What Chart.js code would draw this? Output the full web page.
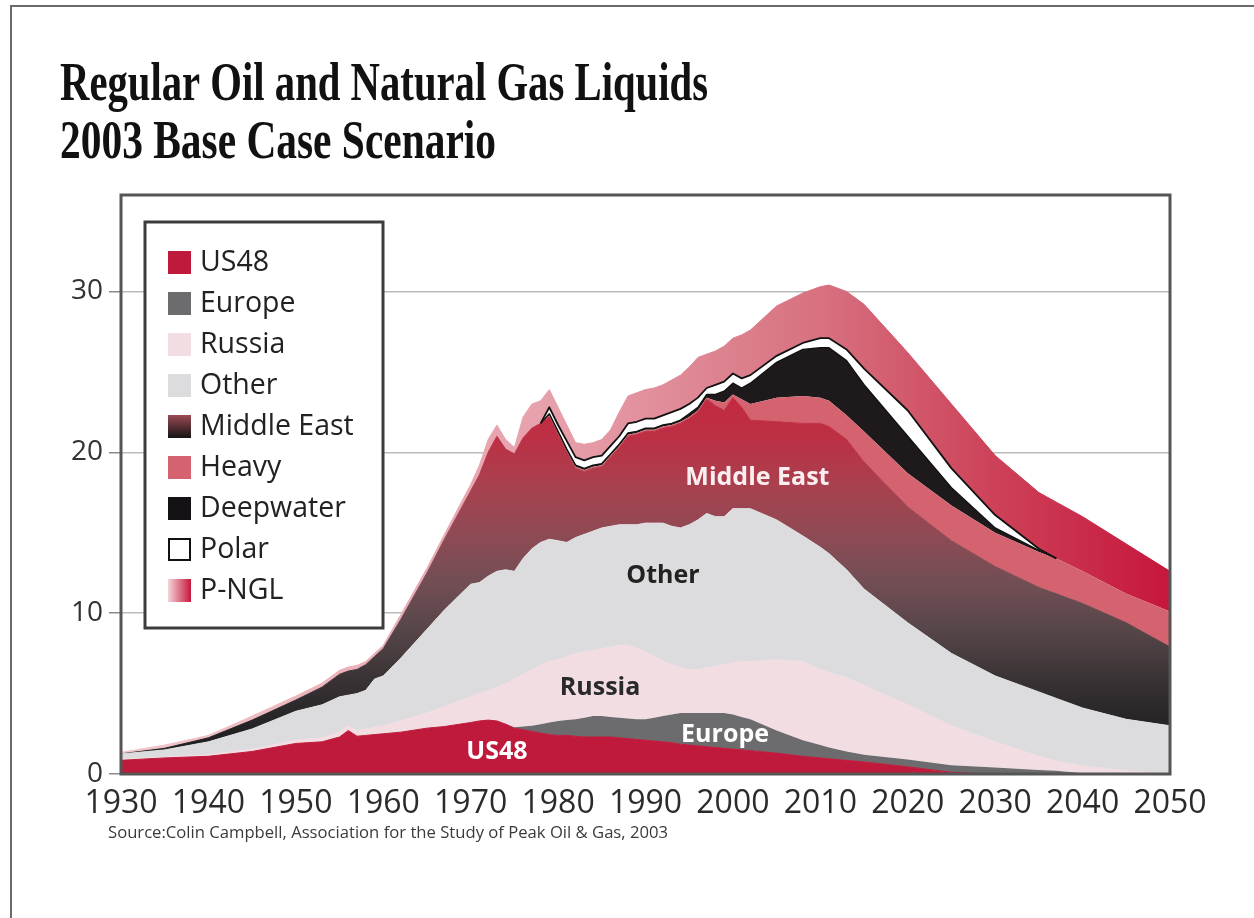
<!DOCTYPE html>
<html>
<head>
<meta charset="utf-8">
<script src="https://cdn.jsdelivr.net/npm/chart.js@4.4.1/dist/chart.umd.min.js"></script>
<style>
  html, body { margin: 0; padding: 0; background: #fff; }
  #wrap { width: 1254px; height: 918px; }
</style>
</head>
<body>
<div id="wrap"><canvas id="oilChart" width="1254" height="918"></canvas></div>
<script>
// Regular oil & NGL production by region (Gb/year), stacked bottom to top
const years = [1930, 1935, 1940, 1945, 1950, 1953, 1955, 1956, 1957, 1958, 1959, 1960, 1962, 1965, 1967,
    1970, 1971, 1972, 1973, 1974, 1975, 1976, 1977, 1978, 1979, 1980, 1981, 1982, 1983, 1984, 1985, 1986,
    1987, 1988, 1989, 1990, 1991, 1992, 1993, 1994, 1995, 1996, 1997, 1998, 1999, 2000, 2001, 2002,
    2005, 2008, 2010, 2011, 2013, 2015, 2020, 2025, 2030, 2035, 2037, 2040, 2045, 2050];

const us48 = [0.85, 1.0, 1.1, 1.4, 1.9, 2.0, 2.3, 2.7, 2.35, 2.4, 2.45, 2.5, 2.6, 2.85, 2.95,
    3.2, 3.3, 3.35, 3.3, 3.1, 2.85, 2.75, 2.65, 2.55, 2.45, 2.4, 2.4, 2.35, 2.3, 2.3, 2.3, 2.3,
    2.25, 2.2, 2.15, 2.1, 2.05, 2.0, 1.95, 1.85, 1.8, 1.75, 1.7, 1.65, 1.6, 1.55, 1.5, 1.45,
    1.3, 1.1, 1.0, 0.95, 0.85, 0.75, 0.45, 0.1, 0, 0, 0, 0, 0, 0];

const europe = [0, 0, 0, 0, 0, 0, 0, 0, 0, 0, 0, 0, 0, 0, 0,
    0, 0, 0, 0, 0, 0.05, 0.2, 0.35, 0.55, 0.75, 0.9, 0.95, 1.05, 1.2, 1.3, 1.3, 1.25,
    1.25, 1.25, 1.25, 1.3, 1.45, 1.6, 1.75, 1.95, 2.0, 2.05, 2.1, 2.15, 2.2, 2.15, 2.05, 1.95,
    1.4, 1.0, 0.8, 0.7, 0.55, 0.45, 0.45, 0.45, 0.4, 0.25, 0.2, 0.05, 0, 0];

const russia = [0.05, 0.05, 0.1, 0.15, 0.2, 0.25, 0.3, 0.3, 0.35, 0.4, 0.45, 0.5, 0.7, 0.95, 1.25,
    1.6, 1.7, 1.85, 2.1, 2.5, 3.0, 3.25, 3.5, 3.7, 3.8, 3.8, 3.95, 4.1, 4.1, 4.1, 4.2, 4.35,
    4.5, 4.55, 4.4, 4.2, 3.8, 3.4, 3.1, 2.8, 2.7, 2.7, 2.8, 2.9, 3.0, 3.2, 3.45, 3.6,
    4.4, 4.9, 4.7, 4.65, 4.6, 4.3, 3.4, 2.45, 1.6, 0.85, 0.6, 0.45, 0.2, 0];

const other = [0.35, 0.45, 0.8, 1.25, 1.8, 2.05, 2.2, 1.9, 2.3, 2.4, 3.0, 3.1, 3.9, 5.2, 6.0,
    7.0, 6.9, 7.1, 7.2, 7.1, 6.7, 7.2, 7.5, 7.6, 7.6, 7.4, 7.1, 7.2, 7.3, 7.4, 7.5, 7.5,
    7.5, 7.5, 7.7, 8.0, 8.3, 8.6, 8.6, 8.7, 9.0, 9.3, 9.6, 9.3, 9.2, 9.6, 9.5, 9.5,
    8.7, 7.8, 7.6, 7.4, 6.7, 6.0, 5.1, 4.5, 4.1, 4.0, 3.9, 3.6, 3.2, 3.0];

const middleEast = [0, 0.1, 0.25, 0.55, 0.7, 1.1, 1.4, 1.5, 1.5, 1.6, 1.4, 1.7, 2.4, 3.5, 4.4,
    5.8, 6.7, 7.7, 8.4, 7.5, 7.3, 7.5, 7.5, 7.4, 7.6, 6.6, 5.6, 4.3, 3.9, 3.9, 3.8, 4.3,
    4.8, 5.5, 5.6, 5.7, 5.7, 5.9, 6.2, 6.5, 6.6, 6.7, 7.1, 6.9, 6.6, 6.9, 6.3, 5.5,
    6.1, 7.0, 7.7, 7.9, 8.1, 7.9, 7.2, 7.0, 6.8, 6.5, 6.5, 6.5, 6.0, 4.9];

const heavy = [0, 0, 0, 0, 0, 0, 0, 0, 0, 0, 0, 0, 0, 0, 0,
    0, 0, 0, 0, 0, 0, 0, 0, 0, 0.1, 0.1, 0.1, 0.1, 0.1, 0.1, 0.1, 0.1,
    0.1, 0.1, 0.1, 0.1, 0.1, 0.1, 0.1, 0.1, 0.1, 0.1, 0.1, 0.3, 0.5, 0.2, 0.5, 1.0,
    1.5, 1.7, 1.6, 1.6, 1.5, 1.9, 2.1, 2.2, 2.1, 2.2, 2.2, 2.0, 1.8, 2.2];

const deepwater = [0, 0, 0, 0, 0, 0, 0, 0, 0, 0, 0, 0, 0, 0, 0,
    0, 0, 0, 0, 0, 0, 0, 0, 0, 0.1, 0.1, 0.1, 0.1, 0.1, 0.1, 0.1, 0.1,
    0.1, 0.1, 0.1, 0.1, 0.1, 0.1, 0.1, 0.1, 0.2, 0.2, 0.2, 0.4, 0.7, 0.7, 0.7, 1.3,
    2.2, 2.9, 3.1, 3.3, 3.4, 2.9, 2.3, 1.1, 0.3, 0.1, 0, 0, 0, 0];

const polar = [0, 0, 0, 0, 0, 0, 0, 0, 0, 0, 0, 0, 0, 0, 0,
    0, 0, 0, 0, 0, 0, 0, 0, 0, 0.4, 0.4, 0.5, 0.5, 0.5, 0.5, 0.5, 0.5,
    0.5, 0.6, 0.6, 0.6, 0.6, 0.6, 0.7, 0.7, 0.6, 0.6, 0.4, 0.6, 0.6, 0.6, 0.6, 0.5,
    0.4, 0.4, 0.6, 0.6, 0.7, 1.0, 1.6, 1.2, 0.8, 0.1, 0, 0, 0, 0];

const pngl = [0.1, 0.2, 0.15, 0.25, 0.25, 0.25, 0.25, 0.25, 0.25, 0.2, 0.2, 0.2, 0.3, 0.3, 0.3,
    0.4, 0.6, 0.8, 0.7, 0.6, 0.4, 1.3, 1.5, 1.4, 1.1, 1.1, 1.0, 0.9, 1.0, 0.9, 1.0, 1.0,
    1.5, 1.7, 1.8, 1.8, 1.9, 1.9, 2.0, 2.1, 2.3, 2.5, 2.1, 2.1, 2.2, 2.2, 2.7, 2.8,
    3.1, 3.1, 3.2, 3.3, 3.6, 4.0, 3.6, 4.0, 3.7, 3.5, 3.5, 3.4, 3.1, 2.5];

const seriesNames = ['US48', 'Europe', 'Russia', 'Other', 'Middle East', 'Heavy', 'Deepwater', 'Polar', 'P-NGL'];
const seriesValues = [us48, europe, russia, other, middleEast, heavy, deepwater, polar, pngl];

const xTickYears = [1930, 1940, 1950, 1960, 1970, 1980, 1990, 2000, 2010, 2020, 2030, 2040, 2050];
const yTickValues = [0, 10, 20, 30];

const titleLines = ['Regular Oil and Natural Gas Liquids', '2003 Base Case Scenario'];
const sourceNote = 'Source:Colin Campbell, Association for the Study of Peak Oil & Gas, 2003';

const fontSans = "'Open Sans', 'Noto Sans', sans-serif";
Chart.defaults.font.family = fontSans;

// labels written inside the bands (year, value)
const areaLabels = [
    { text: 'US48', year: 1973, value: 1.35, color: '#ffffff' },
    { text: 'Europe', year: 1999.1, value: 2.45, color: '#ffffff' },
    { text: 'Russia', year: 1984.8, value: 5.35, color: '#2a2a2a' },
    { text: 'Other', year: 1992, value: 12.3, color: '#222222' },
    { text: 'Middle East', year: 2002.8, value: 18.4, color: '#fbeef0' }
];

function middleEastFill(chart) {
    const area = chart.chartArea;
    const y = chart.scales.y;
    if (!area || !y) return '#7a4e56';
    const top = y.getPixelForValue(24), bottom = y.getPixelForValue(0);
    const g = chart.ctx.createLinearGradient(0, bottom, 0, top);
    g.addColorStop(0, '#19191b');
    g.addColorStop(3 / 24, '#242325');
    g.addColorStop(6 / 24, '#3a3335');
    g.addColorStop(9 / 24, '#574649');
    g.addColorStop(12 / 24, '#734e55');
    g.addColorStop(15 / 24, '#8f4a54');
    g.addColorStop(18 / 24, '#a9404e');
    g.addColorStop(21 / 24, '#bd2f44');
    g.addColorStop(1, '#c42840');
    return g;
}

function pnglFill(chart) {
    const area = chart.chartArea;
    if (!area) return '#dd8a96';
    const g = chart.ctx.createLinearGradient(area.left, 0, area.right, 0);
    g.addColorStop(0, '#f0c6cc');
    g.addColorStop(0.42, '#e69faa');
    g.addColorStop(0.67, '#d7707f');
    g.addColorStop(0.83, '#cd4259');
    g.addColorStop(1, '#c6163c');
    return g;
}

const solidColors = ['#bf1a3b', '#6c6c6e', '#f1dde2', '#dcdcdf', null, '#d4636f', '#1e1a1b', '#ffffff', null];
// bands that never sit at zero inside the plot get a same-colour edge to hide seams
const edgeBands = [0, 2, 3, 4, 8];

function bandFill(i) {
    if (i === 4) return c => middleEastFill(c.chart);
    if (i === 8) return c => pnglFill(c.chart);
    return solidColors[i];
}

function drawFitted(ctx, text, x, y, width) {
    const w = ctx.measureText(text).width;
    ctx.save();
    ctx.translate(x, y);
    ctx.scale(width / w, 1);
    ctx.fillText(text, 0, 0);
    ctx.restore();
}

const chartDecor = {
    id: 'chartDecor',
    afterDatasetsDraw(chart) {
        const { ctx, chartArea: a, scales: { x, y } } = chart;
        ctx.save();
        ctx.beginPath();
        ctx.rect(a.left, a.top, a.right - a.left, a.bottom - a.top);
        ctx.clip();

        // black edges on top of Deepwater and Polar where those bands exist
        [6, 7].forEach(di => {
            const pts = chart.getDatasetMeta(di).data;
            const vals = seriesValues[di];
            ctx.strokeStyle = '#111';
            ctx.lineWidth = di === 7 ? 1.8 : 1.4;
            ctx.lineJoin = 'round';
            ctx.beginPath();
            let pen = false;
            for (let k = 1; k < pts.length; k++) {
                if (vals[k - 1] === 0 && vals[k] === 0) { pen = false; continue; }
                if (!pen) { ctx.moveTo(pts[k - 1].x, pts[k - 1].y); pen = true; }
                ctx.lineTo(pts[k].x, pts[k].y);
            }
            ctx.stroke();
        });

        ctx.font = "bold 25px " + fontSans;
        ctx.textAlign = 'center';
        ctx.textBaseline = 'middle';
        areaLabels.forEach(l => {
            ctx.fillStyle = l.color;
            ctx.fillText(l.text, x.getPixelForValue(l.year), y.getPixelForValue(l.value));
        });
        ctx.restore();
    },
    afterDraw(chart) {
        const { ctx, chartArea: a } = chart;
        ctx.save();

        // plot frame
        ctx.strokeStyle = '#555';
        ctx.lineWidth = 3;
        ctx.strokeRect(a.left, a.top, a.right - a.left, a.bottom - a.top);

        // outer picture frame (top and left)
        ctx.strokeStyle = '#6a6a6a';
        ctx.lineWidth = 2;
        ctx.beginPath();
        ctx.moveTo(11, 918);
        ctx.lineTo(11, 6);
        ctx.lineTo(1254, 6);
        ctx.stroke();

        // legend box
        const lx = 145, ly = 222, lw = 238, lh = 406;
        ctx.fillStyle = '#fff';
        ctx.fillRect(lx, ly, lw, lh);
        ctx.strokeStyle = '#3c3c3c';
        ctx.lineWidth = 3;
        ctx.strokeRect(lx, ly, lw, lh);
        ctx.font = "28.5px " + fontSans;
        ctx.textBaseline = 'middle';
        ctx.textAlign = 'left';
        seriesNames.forEach((name, i) => {
            const cy = 262 + i * 41;
            const sx = 168, sy = cy - 11, ss = 23;
            if (i === 4) {
                const g = ctx.createLinearGradient(0, sy, 0, sy + ss);
                g.addColorStop(0, '#9b4a55');
                g.addColorStop(1, '#141414');
                ctx.fillStyle = g;
                ctx.fillRect(sx, sy, ss, ss);
            } else if (i === 8) {
                const g = ctx.createLinearGradient(sx, 0, sx + ss, 0);
                g.addColorStop(0, '#f4d6da');
                g.addColorStop(1, '#c8163c');
                ctx.fillStyle = g;
                ctx.fillRect(sx, sy, ss, ss);
            } else if (i === 7) {
                ctx.fillStyle = '#fff';
                ctx.fillRect(sx, sy, ss, ss);
                ctx.strokeStyle = '#111';
                ctx.lineWidth = 2;
                ctx.strokeRect(sx + 1, sy + 1, ss - 2, ss - 2);
            } else {
                ctx.fillStyle = i === 6 ? '#141214' : solidColors[i];
                ctx.fillRect(sx, sy, ss, ss);
            }
            ctx.fillStyle = '#222';
            ctx.fillText(name, 200, cy + 1);
        });

        // title
        ctx.fillStyle = '#111';
        ctx.textBaseline = 'alphabetic';
        ctx.font = "bold 55px 'Liberation Serif', 'DejaVu Serif', serif";
        drawFitted(ctx, titleLines[0], 60, 100, 648);
        drawFitted(ctx, titleLines[1], 60, 158, 436);

        // source
        ctx.fillStyle = '#3a3a3a';
        ctx.font = "16px " + fontSans;
        drawFitted(ctx, sourceNote, 108, 838, 560);

        ctx.restore();
    }
};

const datasets = seriesNames.map((name, i) => ({
    label: name,
    data: seriesValues[i],
    fill: i === 0 ? 'origin' : '-1',
    backgroundColor: bandFill(i),
    borderColor: bandFill(i),
    borderWidth: edgeBands.includes(i) ? 1 : 0,
    pointRadius: 0,
    tension: 0
}));

new Chart(document.getElementById('oilChart').getContext('2d'), {
    type: 'line',
    data: { labels: years, datasets: datasets },
    options: {
        responsive: false,
        animation: false,
        layout: { padding: { top: 195, right: 84, left: 0, bottom: 0 } },
        plugins: {
            legend: { display: false },
            tooltip: { enabled: false }
        },
        scales: {
            x: {
                type: 'linear',
                min: 1930,
                max: 2050,
                afterBuildTicks: s => { s.ticks = xTickYears.map(v => ({ value: v })); },
                afterFit: s => { s.height = 144; },
                ticks: {
                    callback: v => String(v),
                    color: '#2b2b2b',
                    font: { size: 32 },
                    padding: 11,
                    maxRotation: 0,
                    autoSkip: false
                },
                grid: { display: false, drawTicks: false },
                border: { display: false }
            },
            y: {
                stacked: true,
                min: 0,
                max: 36,
                z: 1,
                afterBuildTicks: s => { s.ticks = yTickValues.map(v => ({ value: v })); },
                afterFit: s => { s.width = 121; },
                ticks: {
                    color: '#333',
                    font: { size: 28 },
                    padding: 6
                },
                grid: {
                    color: c => c.tick && c.tick.value === 0 ? 'rgba(0,0,0,0)' : 'rgba(120,120,120,0.5)',
                    lineWidth: 1.5,
                    tickLength: 12,
                    tickColor: '#8a8a8a',
                    tickWidth: 1.5
                },
                border: { display: false }
            }
        }
    },
    plugins: [chartDecor]
});
</script>
</body>
</html>
